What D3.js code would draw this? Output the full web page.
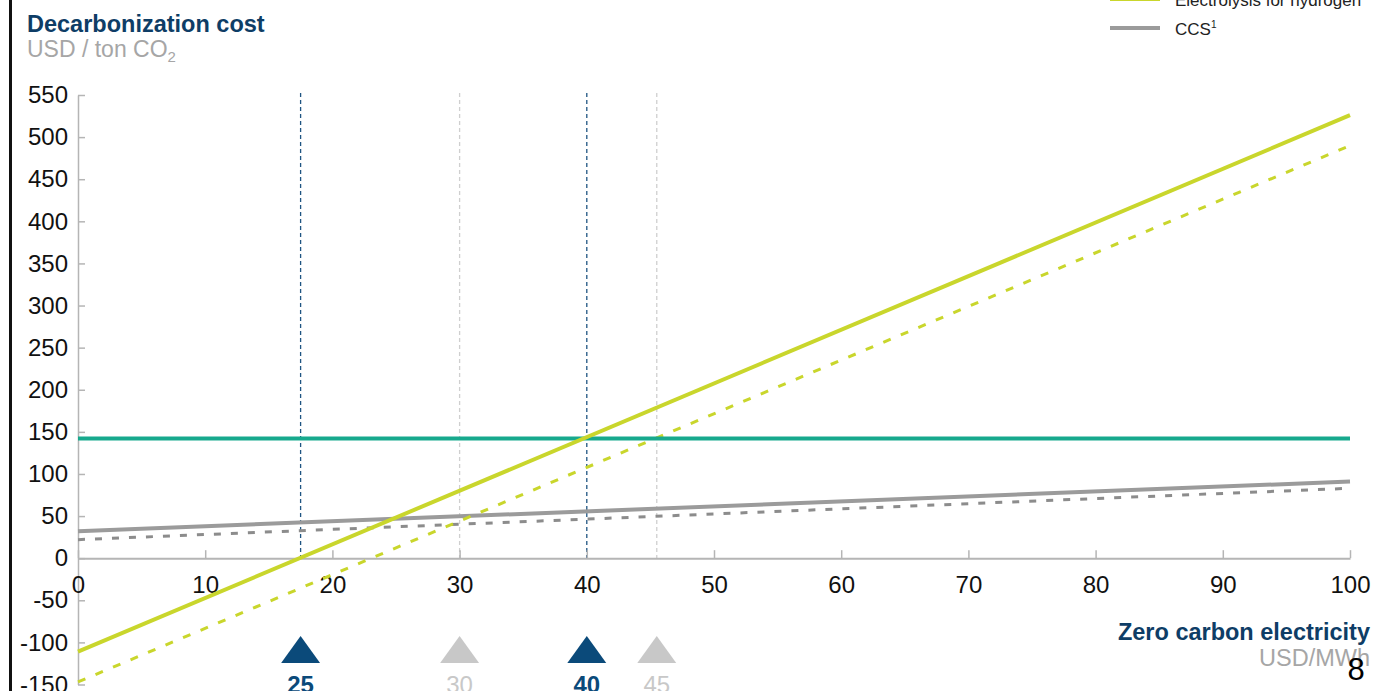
<!DOCTYPE html>
<html>
<head>
<meta charset="utf-8">
<script src="https://cdn.jsdelivr.net/npm/d3@7"></script>
<style>
  html, body { margin: 0; padding: 0; background: #fff; }
  svg { display: block; font-family: "Liberation Sans", Arial, sans-serif; }
</style>
</head>
<body>
<svg id="chart" width="1375" height="691"></svg>
<script>
// Electricity price on the x axis (USD/MWh), cost of abatement on the y axis (USD / ton CO2)
const xDomain = [0, 100];
const yDomain = [-150, 550];
const xTicks = [0, 10, 20, 30, 40, 50, 60, 70, 80, 90, 100];
const yTicks = [-150, -100, -50, 0, 50, 100, 150, 200, 250, 300, 350, 400, 450, 500, 550];

// Each series is a straight line given by its endpoints
const electrolysisSolid = [{ x: 0, y: -111 }, { x: 100, y: 526 }];
const electrolysisDashed = [{ x: 0, y: -147 }, { x: 100, y: 490 }];
const ccsSolid = [{ x: 0, y: 32 }, { x: 100, y: 91 }];
const ccsDashed = [{ x: 0, y: 22 }, { x: 100, y: 83 }];
const benchmark = [{ x: 0, y: 142 }, { x: 100, y: 142 }];

// Break-even markers: position on the axis and the price printed under the triangle
const markerPos = [17.5, 30, 40, 45.5];
const markerLabels = ["25", "30", "40", "45"];
const markerDark = [true, false, true, false];

const legendLabels = ["Electrolysis for hydrogen", "CCS"];

const C = {
  navy: "#0e3d66",
  navyMark: "#0b4a7a",
  grayText: "#a6a6a6",
  lime: "#c9d62c",
  teal: "#17a98d",
  gray: "#9b9b9b",
  grayDash: "#8c8c8c",
  lightMark: "#c8c8c8",
  axis: "#b5b5b5"
};

const FONT = "Liberation Sans, Arial, sans-serif";
const svg = d3.select("#chart");

const x = d3.scaleLinear().domain(xDomain).range([78, 1350]);
const y = d3.scaleLinear().domain(yDomain).range([684.5, 95]);

// Frame rule on the left
svg.append("line")
  .attr("x1", 10.5).attr("x2", 10.5).attr("y1", 0).attr("y2", 691)
  .attr("stroke", "#111").attr("stroke-width", 3);

// Titles
svg.append("text").attr("x", 27).attr("y", 32)
  .attr("font-size", 23.5).attr("font-weight", "bold").attr("fill", C.navy)
  .text("Decarbonization cost");
const sub = svg.append("text").attr("x", 27).attr("y", 57)
  .attr("font-size", 23).attr("fill", C.grayText);
sub.append("tspan").text("USD / ton CO");
sub.append("tspan").attr("font-size", 15).attr("dy", 5).text("2");

svg.append("text").attr("x", 1370).attr("y", 640).attr("text-anchor", "end")
  .attr("font-size", 23.5).attr("font-weight", "bold").attr("fill", C.navy)
  .text("Zero carbon electricity");
svg.append("text").attr("x", 1370).attr("y", 666).attr("text-anchor", "end")
  .attr("font-size", 23.5).attr("fill", C.grayText)
  .text("USD/MWh");

// Legend
const legend = svg.append("g");
legendLabels.forEach((label, i) => {
  const ly = -1 + i * 29;
  legend.append("line")
    .attr("x1", 1110).attr("x2", 1160).attr("y1", ly).attr("y2", ly)
    .attr("stroke", i === 0 ? C.lime : C.gray).attr("stroke-width", 4);
  const t = legend.append("text").attr("x", 1175).attr("y", ly + 7)
    .attr("font-size", 17).attr("fill", "#222");
  t.append("tspan").text(label);
  if (i === 1) t.append("tspan").attr("font-size", 10).attr("dy", -7).text("1");
});

// Vertical reference lines at the break-even points
const vgroup = svg.append("g");
markerPos.forEach((p, i) => {
  vgroup.append("line")
    .attr("x1", x(p)).attr("x2", x(p)).attr("y1", 93).attr("y2", y(0))
    .attr("stroke", markerDark[i] ? "#1f5582" : "#cfcfcf")
    .attr("stroke-width", 1.3)
    .attr("stroke-dasharray", "4,3");
});

// Axes
const plain = d => String(d);
const yAxis = d3.axisLeft(y).tickValues(yTicks).tickFormat(plain)
  .tickSizeInner(-7).tickSizeOuter(0).tickPadding(10);
const gy = svg.append("g").attr("transform", `translate(${x(0)},0)`).call(yAxis);
gy.select(".domain").attr("stroke", C.axis).attr("stroke-width", 1.5);
gy.selectAll(".tick line").attr("stroke", C.axis).attr("stroke-width", 1.5);
gy.selectAll(".tick text").attr("font-size", 24).attr("fill", "#111")
  .attr("font-family", FONT);

const xAxis = d3.axisBottom(x).tickValues(xTicks).tickFormat(plain)
  .tickSizeInner(-8).tickSizeOuter(0).tickPadding(18);
const gx = svg.append("g").attr("transform", `translate(0,${y(0)})`).call(xAxis);
gx.select(".domain").attr("stroke", C.axis).attr("stroke-width", 2);
gx.selectAll(".tick line").attr("stroke", C.axis).attr("stroke-width", 1.5);
gx.selectAll(".tick text").attr("font-size", 24).attr("fill", "#111")
  .attr("font-family", FONT);

// Series lines
const line = d3.line().x(d => x(d.x)).y(d => y(d.y));
const series = [
  { data: ccsDashed, color: C.grayDash, width: 3, dash: "7,10" },
  { data: ccsSolid, color: C.gray, width: 4, dash: null },
  { data: electrolysisDashed, color: C.lime, width: 3, dash: "8,11" },
  { data: benchmark, color: C.teal, width: 4, dash: null },
  { data: electrolysisSolid, color: C.lime, width: 4, dash: null }
];
series.forEach(s => {
  svg.append("path").datum(s.data)
    .attr("d", line)
    .attr("fill", "none")
    .attr("stroke", s.color)
    .attr("stroke-width", s.width)
    .attr("stroke-dasharray", s.dash);
});

// Triangle markers with their prices
const tri = d3.symbol().type(d3.symbolTriangle).size(420);
markerPos.forEach((p, i) => {
  const col = markerDark[i] ? C.navyMark : C.lightMark;
  svg.append("path").attr("d", tri)
    .attr("transform", `translate(${x(p)},654) scale(1.25,1)`)
    .attr("fill", col);
  svg.append("text").attr("x", x(p)).attr("y", 693).attr("text-anchor", "middle")
    .attr("font-size", 24).attr("font-weight", markerDark[i] ? "bold" : "normal")
    .attr("fill", markerDark[i] ? C.navyMark : C.lightMark)
    .text(markerLabels[i]);
});

// Page number
svg.append("text").attr("x", 1356).attr("y", 680).attr("text-anchor", "middle")
  .attr("font-size", 31).attr("fill", "#000").text("8");
</script>
</body>
</html>
